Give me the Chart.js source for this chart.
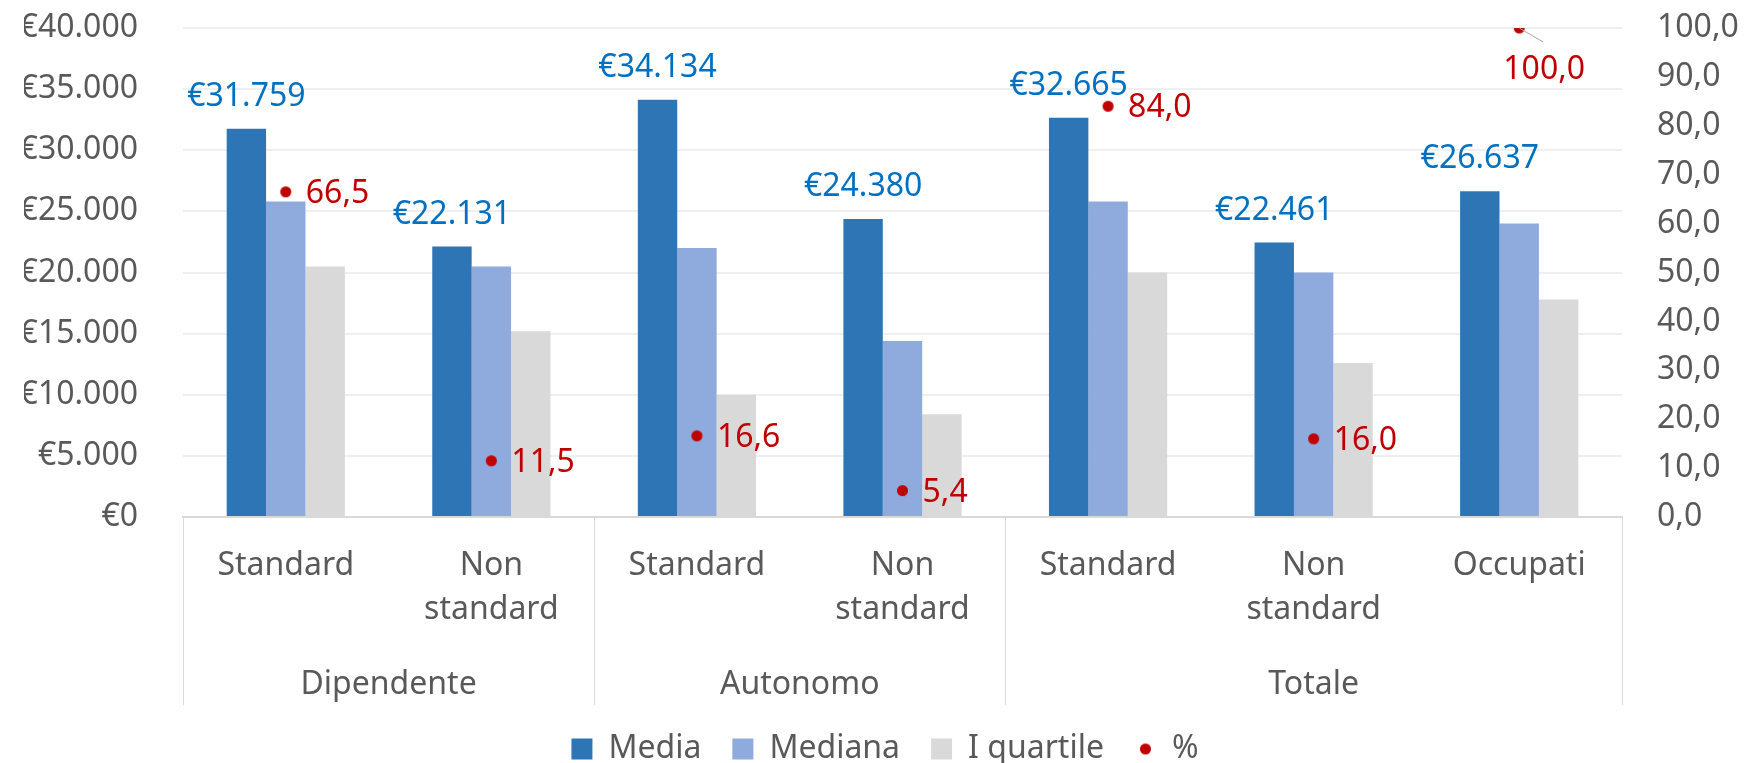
<!DOCTYPE html>
<html>
<head>
<meta charset="utf-8">
<script src="https://cdn.jsdelivr.net/npm/chart.js@4"></script>
<style>
  html, body { margin: 0; background: #fff; }
  canvas { display: block; }
</style>
</head>
<body>
<canvas id="chart" width="1746" height="763"></canvas>
<script>
const categories = [['Standard'], ['Non', 'standard'], ['Standard'], ['Non', 'standard'], ['Standard'], ['Non', 'standard'], ['Occupati']];
const groupNames = ['Dipendente', 'Autonomo', 'Totale'];
const groupSizes = [2, 2, 3];
const media = [31759, 22131, 34134, 24380, 32665, 22461, 26637];
const mediana = [25800, 20500, 22000, 14400, 25800, 20000, 24000];
const quartile = [20500, 15200, 10000, 8400, 20000, 12600, 17800];
const percent = [66.5, 11.5, 16.6, 5.4, 84.0, 16.0, 100.0];

const font = 'Noto Sans';
const textGrey = '#595959';
const lineGrey = '#d9d9d9';

const euro = v => '€' + String(Math.round(v)).replace(/\B(?=(\d{3})+(?!\d))/g, '.');
const pct = v => Number(v).toFixed(1).replace('.', ',');

// small red dot used both for the points and the legend
const dot = document.createElement('canvas');
dot.width = dot.height = 13;
{
  const c = dot.getContext('2d');
  c.fillStyle = '#C00000';
  c.beginPath();
  c.arc(6.5, 6.5, 5.5, 0, Math.PI * 2);
  c.fill();
}

const labelsPlugin = {
  id: 'labels',
  afterDatasetsDraw(chart) {
    const ctx = chart.ctx;
    const area = chart.chartArea;
    ctx.save();
    ctx.font = `32px "${font}"`;
    ctx.textBaseline = 'middle';

    ctx.fillStyle = '#0070C0';
    ctx.textAlign = 'center';
    chart.getDatasetMeta(0).data.forEach((bar, i) => ctx.fillText(euro(media[i]), bar.x, bar.y - 32));

    ctx.fillStyle = '#C00000';
    chart.getDatasetMeta(3).data.forEach((pt, i) => {
      if (pt.y - area.top < 15) {
        // no room above: label goes below with a leader line
        ctx.strokeStyle = '#a6a6a6';
        ctx.lineWidth = 1;
        ctx.beginPath();
        ctx.moveTo(pt.x, pt.y);
        ctx.lineTo(pt.x + 24, pt.y + 14);
        ctx.stroke();
        ctx.textAlign = 'center';
        ctx.fillText(pct(percent[i]), pt.x + 25, pt.y + 42);
      } else {
        ctx.textAlign = 'left';
        ctx.fillText(pct(percent[i]), pt.x + 20, pt.y + 2);
      }
    });
    ctx.restore();
  },
  afterDraw(chart) {
    const ctx = chart.ctx;
    const x = chart.scales.x;
    const area = chart.chartArea;
    const top = area.bottom;
    const bottom = top + 188;
    ctx.save();
    ctx.strokeStyle = lineGrey;
    ctx.lineWidth = 1;
    ctx.font = `32px "${font}"`;
    ctx.fillStyle = textGrey;
    ctx.textAlign = 'center';
    ctx.textBaseline = 'middle';
    const edges = [area.left];
    let start = 0;
    groupNames.forEach((name, g) => {
      const end = start + groupSizes[g] - 1;
      const cx = (x.getPixelForValue(start) + x.getPixelForValue(end)) / 2;
      ctx.fillText(name, cx, top + 168);
      edges.push(end + 1 < categories.length
        ? (x.getPixelForValue(end) + x.getPixelForValue(end + 1)) / 2
        : area.right);
      start = end + 1;
    });
    edges.forEach(ex => {
      ctx.beginPath();
      ctx.moveTo(Math.round(ex) + 0.5, top);
      ctx.lineTo(Math.round(ex) + 0.5, bottom);
      ctx.stroke();
    });
    ctx.restore();
  }
};

const textFont = { family: font, size: 32 };

new Chart(document.getElementById('chart'), {
  type: 'bar',
  data: {
    labels: categories,
    datasets: [
      { label: 'Media', data: media, backgroundColor: '#2E75B6', pointStyle: 'rect' },
      { label: 'Mediana', data: mediana, backgroundColor: '#8FAADC', pointStyle: 'rect' },
      { label: 'I quartile', data: quartile, backgroundColor: '#D9D9D9', pointStyle: 'rect' },
      {
        type: 'line',
        label: '%',
        data: percent,
        yAxisID: 'y1',
        showLine: false,
        pointStyle: dot,
        order: -1,
      },
    ],
  },
  options: {
    responsive: false,
    animation: false,
    datasets: {
      bar: { categoryPercentage: 0.575, barPercentage: 1 },
    },
    layout: { padding: { top: 28, left: 24, right: 0, bottom: -12 } },
    plugins: {
      tooltip: { enabled: false },
      legend: {
        position: 'bottom',
        labels: {
          usePointStyle: true,
          boxWidth: 21,
          boxHeight: 21,
          padding: 31,
          font: textFont,
          color: textGrey,
          sort: (a, b) => a.datasetIndex - b.datasetIndex,
        },
      },
    },
    scales: {
      x: {
        grid: { display: false },
        border: { color: lineGrey, width: 2 },
        ticks: {
          font: { ...textFont, lineHeight: 1.4 },
          color: textGrey,
          padding: 18,
          maxRotation: 0,
          autoSkip: false,
        },
        afterFit: s => { s.height = 185; },
      },
      y: {
        min: 0,
        max: 40000,
        ticks: { stepSize: 5000, callback: euro, padding: 0, font: textFont, color: textGrey },
        grid: { color: '#efefef', lineWidth: 2, tickLength: 45, tickColor: 'transparent' },
        border: { display: false },
        afterFit: s => { s.width = 159; },
      },
      y1: {
        position: 'right',
        min: 0,
        max: 100,
        ticks: { stepSize: 10, callback: pct, padding: 0, font: textFont, color: textGrey },
        grid: { drawOnChartArea: false, tickLength: 35, tickColor: 'transparent' },
        border: { display: false },
        afterFit: s => { s.width = 124; },
      },
    },
  },
  plugins: [labelsPlugin],
});
</script>
</body>
</html>
